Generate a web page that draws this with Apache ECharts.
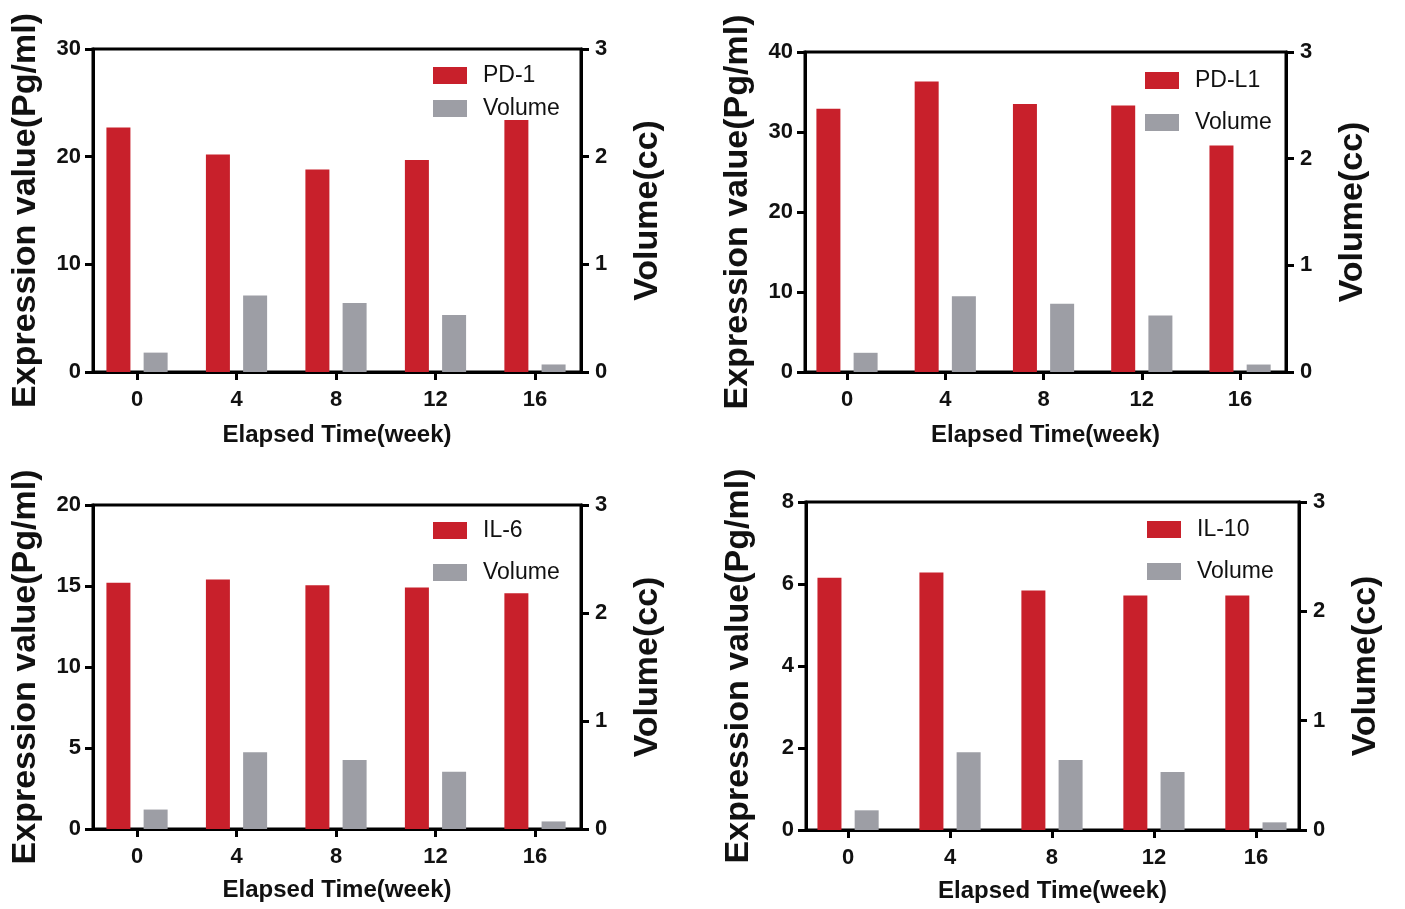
<!DOCTYPE html>
<html>
<head>
<meta charset="utf-8">
<title>Expression value and tumour volume</title>
<script src="https://cdn.jsdelivr.net/npm/echarts@6/dist/echarts.min.js"></script>
<style>
    html, body { margin: 0; padding: 0; background: #fff; }
    #main { width: 1405px; height: 909px; }
</style>
</head>
<body>
<div id="main"></div>
<script>
// data
var weeks = [0, 4, 8, 12, 16];
var volume = [0.18, 0.71, 0.64, 0.53, 0.07];
var pd1 = [22.7, 20.2, 18.8, 19.7, 23.4];
var pdl1 = [32.9, 36.3, 33.5, 33.3, 28.3];
var il6 = [15.2, 15.4, 15.05, 14.9, 14.55];
var il10 = [6.15, 6.28, 5.84, 5.72, 5.72];
var markers = ['PD-1', 'PD-L1', 'IL-6', 'IL-10'];
var exprMax = [30, 40, 20, 8];
var exprStep = [10, 10, 5, 2];
var volMax = 3, volStep = 1;

var exprData = [pd1, pdl1, il6, il10];

// panel placement (pixels)
var panels = [
    { left: 93,  top: 49,  width: 488, height: 323, xMin: -1.77, xMax: 17.85, lgLeft: 428,  lgTop: 59,  lgGap: 10, nameGap: 51 },
    { left: 805, top: 52,  width: 481, height: 320, xMin: -1.71, xMax: 17.87, lgLeft: 1140, lgTop: 64,  lgGap: 19, nameGap: 51 },
    { left: 93,  top: 505, width: 488, height: 324, xMin: -1.77, xMax: 17.85, lgLeft: 428,  lgTop: 514, lgGap: 19, nameGap: 49 },
    { left: 806, top: 502, width: 493, height: 328, xMin: -1.65, xMax: 17.69, lgLeft: 1142, lgTop: 513, lgGap: 19, nameGap: 49 }
];

var RED = '#c8202b';
var GREY = '#9d9ea5';
var FONT = 'Liberation Sans, Arial, sans-serif';

var axisLine = { show: true, onZero: false, lineStyle: { color: '#000', width: 3 } };
var axisTick = { show: true, length: 8, lineStyle: { color: '#000', width: 3 } };

var option = {
    animation: false,
    textStyle: { fontFamily: FONT },
    grid: [], xAxis: [], yAxis: [], legend: [], series: []
};

panels.forEach(function (p, i) {
    option.grid.push({
        left: p.left, top: p.top, width: p.width, height: p.height,
        show: true, borderColor: '#000', borderWidth: 3
    });
    option.xAxis.push({
        type: 'value',
        gridIndex: i,
        min: p.xMin,
        max: p.xMax,
        axisLine: axisLine,
        axisTick: { show: true, length: 8, customValues: weeks, lineStyle: { color: '#000', width: 3 } },
        axisLabel: { customValues: weeks, margin: 17, fontSize: 22, fontWeight: 'bold', color: '#111', fontFamily: FONT },
        splitLine: { show: false },
        name: 'Elapsed Time(week)',
        nameLocation: 'middle',
        nameGap: p.nameGap,
        nameTextStyle: { fontSize: 24, fontWeight: 'bold', color: '#111', fontFamily: FONT }
    });
    option.yAxis.push({
        type: 'value',
        gridIndex: i,
        position: 'left',
        min: 0,
        max: exprMax[i],
        interval: exprStep[i],
        axisLine: axisLine,
        axisTick: axisTick,
        axisLabel: { margin: 12, fontSize: 22, fontWeight: 'bold', color: '#111', fontFamily: FONT },
        splitLine: { show: false },
        name: 'Expression value(Pg/ml)',
        nameLocation: 'middle',
        nameGap: 50,
        nameTextStyle: { fontSize: 34, fontWeight: 'bold', color: '#111', fontFamily: FONT }
    });
    option.yAxis.push({
        type: 'value',
        gridIndex: i,
        position: 'right',
        min: 0,
        max: volMax,
        interval: volStep,
        axisLine: axisLine,
        axisTick: axisTick,
        axisLabel: { margin: 14, fontSize: 22, fontWeight: 'bold', color: '#111', fontFamily: FONT },
        splitLine: { show: false },
        name: 'Volume(cc)',
        nameLocation: 'middle',
        nameGap: 50,
        nameTextStyle: { fontSize: 34, fontWeight: 'bold', color: '#111', fontFamily: FONT }
    });
    option.legend.push({
        orient: 'vertical',
        left: p.lgLeft,
        top: p.lgTop,
        icon: 'rect',
        itemWidth: 34,
        itemHeight: 17,
        itemGap: p.lgGap,
        data: [markers[i], 'Volume'],
        textStyle: { fontSize: 23, color: '#111', fontFamily: FONT, padding: [0, 0, 0, 11] }
    });
    option.series.push({
        name: markers[i],
        type: 'bar',
        xAxisIndex: i,
        yAxisIndex: i * 2,
        barWidth: 24,
        barGap: '55%',
        itemStyle: { color: RED },
        data: weeks.map(function (w, k) { return [w, exprData[i][k]]; })
    });
    option.series.push({
        name: 'Volume',
        type: 'bar',
        xAxisIndex: i,
        yAxisIndex: i * 2 + 1,
        barWidth: 24,
        barGap: '55%',
        itemStyle: { color: GREY },
        data: weeks.map(function (w, k) { return [w, volume[k]]; })
    });
});

var chart = echarts.init(document.getElementById('main'));
chart.setOption(option);
</script>
</body>
</html>
